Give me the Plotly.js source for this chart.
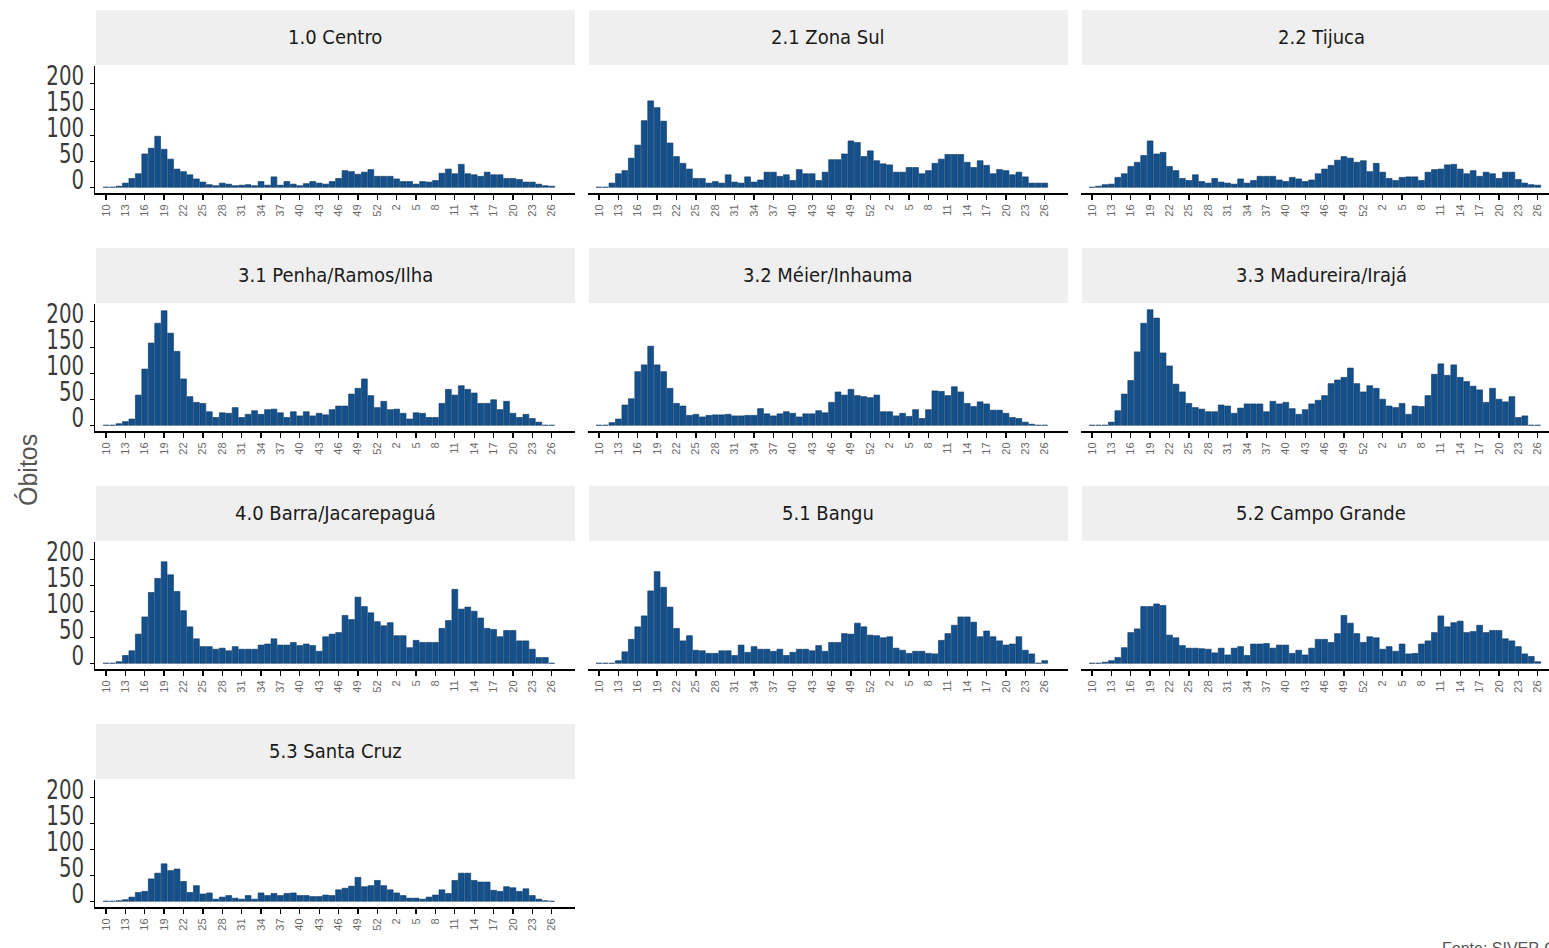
<!DOCTYPE html>
<html><head><meta charset="utf-8">
<script src="https://cdn.plot.ly/plotly-3.0.1.min.js"></script>
<style>html,body{margin:0;padding:0;overflow:hidden;background:#fff}</style>
</head><body><div id="chart" style="width:1562px;height:960px"></div>
<script>
// Epidemiological weeks: 2020 w10..w53, 2021 w1..w26
const weekLabels = ['10','11','12','13','14','15','16','17','18','19','20','21','22','23','24','25','26','27','28','29','30','31','32','33','34','35','36','37','38','39','40','41','42','43','44','45','46','47','48','49','50','51','52','53',
  '1','2','3','4','5','6','7','8','9','10','11','12','13','14','15','16','17','18','19','20','21','22','23','24','25','26'];
const regions = ['1.0 Centro','2.1 Zona Sul','2.2 Tijuca','3.1 Penha/Ramos/Ilha','3.2 Méier/Inhauma','3.3 Madureira/Irajá','4.0 Barra/Jacarepaguá','5.1 Bangu','5.2 Campo Grande','5.3 Santa Cruz'];
const yTicks = [0,50,100,150,200];

const centro = [0,0,2,8,17,26,64,75,98,73, 54,35,30,24,16,10,5,3,8,6, 3,4,5,3,11,4,20,4,11,6, 3,7,11,8,6,11,17,32,30,25, 29,34,21,21,
  21,16,11,11,6,11,10,13,27,35, 26,44,26,24,21,29,24,24,17,17, 15,10,10,6,3,2];
const zonaSul = [0,0, 8,26,32,56,81,128,166,153,127, 85,59,46,35,17,17,8,11,8,24, 10,8,20,10,14,29,29,21,24,13, 34,26,26,13,29,53,53,64,89,86, 59,70,51,
  45,43,29,29,38,38,26,32,46,54, 63,63,63,48,38,51,42,26,34,32, 24,29,20,8,8,8];
const tijuca = [0,2, 5,6,19,26,40,48,61,89,64, 67,40,32,17,13,24,11,8,17,10, 8,6,16,8,13,21,21,21,14,11, 19,16,11,14,26,35,42,52,59,56, 48,51,30,
  46,29,17,13,19,20,20,13,29,34, 35,43,44,35,26,32,21,29,26,17, 29,29,15,8,5,4];
const penha = [0,0, 3,7,12,58,108,158,196,220,177, 142,89,55,44,42,26,15,24,23,34, 15,21,28,21,30,31,24,15,26,18, 26,18,23,20,30,37,37,60,71,89, 57,34,46,
  30,31,23,12,24,23,15,15,42,69, 58,76,69,62,42,42,49,30,46,23, 15,21,13,6,0,0];
const meier = [0,0, 5,12,39,51,103,116,152,116,103,71, 42,37,19,21,16,19,20,20,21,18, 18,19,19,32,22,18,22,26,23,16, 22,22,28,24,44,64,58,69,57,55, 53,58,
  26,26,18,23,17,30,13,30,66,65, 57,74,64,42,36,45,41,29,29,23, 15,13,6,2,0,0];
const madureira = [0,0,0, 6,28,60,86,141,196,222,206,139, 114,79,64,42,34,31,26,26,39,37, 23,33,41,41,41,26,46,41,44,32, 21,30,41,48,57,80,87,92,110,80, 64,76,
  71,50,37,34,42,21,37,36,57,98, 118,96,116,92,84,75,68,44,71,50, 45,55,15,18,0,0];
const barra = [0,0, 3,15,24,56,89,136,163,195,170, 138,101,70,47,32,32,27,29,24,32, 27,27,27,35,37,47,35,35,40,34, 37,34,23,51,56,59,92,84,127,109, 97,80,72,
  78,53,53,30,44,40,40,40,67,82, 142,104,108,100,87,67,65,51,63,63, 43,43,27,11,11,0];
const bangu = [0,0,0, 5,22,46,70,91,139,176,146,108, 67,43,53,25,24,19,19,24,24,15, 35,21,32,27,27,23,27,15,21,27, 27,24,34,23,40,40,57,56,77,70, 54,53,
  49,51,29,25,19,23,23,19,18,44, 57,73,89,89,79,51,62,51,43,35, 37,51,25,18,0,5];
const campoGrande = [0,0, 2,5,11,30,59,66,109,109,114, 111,54,49,34,29,29,28,27,20,29, 16,29,32,15,37,37,38,29,35,35, 19,25,16,29,46,46,40,57,92,77, 57,40,51,
  49,27,32,23,37,18,19,37,43,59, 91,70,78,81,59,61,73,59,63,63, 47,43,32,18,13,3];
const santaCruz = [0,0, 1,3,8,17,19,43,54,72,59, 62,38,17,30,14,16,4,8,11,6, 4,11,4,16,11,15,11,15,16,11, 11,9,9,12,11,22,25,29,46,28, 30,40,30,
  22,16,11,6,6,4,8,12,22,15, 40,54,54,40,37,37,21,19,28,26, 19,24,11,4,1,0];

const series = [centro, zonaSul, tijuca, penha, meier, madureira, barra, bangu, campoGrande, santaCruz];

// ---- layout geometry (pixels) ----
const W = 1562, H = 960;
const colX = [[95,575],[588,1068],[1081,1561]];
const rowY = [[66,193],[304,431],[542,669],[780,907]];
const stripH = 56;
const px = v => v / W;
const py = v => 1 - v / H;

const xIdx = weekLabels.map((_, i) => i);
const tickvals = xIdx.filter(i => i % 3 === 0);
const ticktext = tickvals.map(i => weekLabels[i]);

const narrow = '"Liberation Sans Narrow", "DejaVu Sans Condensed", Arial, sans-serif';

const traces = [];
const layout = {
  width: W, height: H,
  margin: {l:0, r:0, t:0, b:0},
  paper_bgcolor: '#ffffff', plot_bgcolor: '#ffffff',
  showlegend: false,
  bargap: 0.1,
  shapes: [], annotations: []
};

series.forEach((vals, k) => {
  const r = Math.floor(k / 3), c = k % 3;
  const n = k + 1;
  const xa = 'x' + (n === 1 ? '' : n), ya = 'y' + (n === 1 ? '' : n);
  traces.push({
    type: 'bar', x: xIdx, y: vals, xaxis: xa, yaxis: ya,
    marker: {color: '#13508c', line: {color: '#0b355f', width: 0.6}},
    hovertemplate: regions[k] + ' semana %{customdata}: %{y}<extra></extra>',
    customdata: weekLabels
  });
  const xKey = 'xaxis' + (n === 1 ? '' : n), yKey = 'yaxis' + (n === 1 ? '' : n);
  layout[xKey] = {
    domain: [px(colX[c][0]), px(colX[c][1])],
    anchor: ya, range: [-1.7, 72.6],
    showgrid: false, zeroline: false,
    showline: true, linecolor: '#000', linewidth: 2,
    ticks: 'outside', ticklen: 5, tickwidth: 1.3, tickcolor: '#000',
    tickvals: tickvals, ticktext: ticktext, tickangle: -90,
    tickfont: {family: 'Liberation Sans, Arial, sans-serif', size: 11, color: '#6a6a6a'},
    fixedrange: true
  };
  const yax = {
    domain: [py(rowY[r][1]), py(rowY[r][0])],
    anchor: xa, range: [-11, 233],
    showgrid: false, zeroline: false, fixedrange: true
  };
  if (c === 0) {
    Object.assign(yax, {
      showline: true, linecolor: '#000', linewidth: 1.5,
      ticks: 'outside', ticklen: 4, tickwidth: 1.2, tickcolor: '#000',
      tickvals: yTicks, ticktext: yTicks.map(String),
      tickfont: {family: narrow, size: 22, color: '#3a3a3a'},
      ticklabelshift: -6, ticklabelstandoff: 1
    });
  } else {
    Object.assign(yax, {showline: false, showticklabels: false, ticks: ''});
  }
  layout[yKey] = yax;

  // facet strip
  layout.shapes.push({
    type: 'rect', xref: 'paper', yref: 'paper', layer: 'below',
    x0: px(colX[c][0] + 1), x1: px(colX[c][1]),
    y0: py(rowY[r][0] - 1), y1: py(rowY[r][0] - stripH),
    fillcolor: '#efefef', line: {width: 0}
  });
  layout.annotations.push({
    xref: 'paper', yref: 'paper',
    x: px((colX[c][0] + colX[c][1]) / 2), y: py(rowY[r][0] - stripH / 2 - 1),
    text: regions[k], showarrow: false, xanchor: 'center', yanchor: 'middle',
    font: {family: narrow, size: 20, color: '#1a1a1a'}
  });
});

layout.annotations.push({
  xref: 'paper', yref: 'paper', x: px(28), y: py(470),
  text: 'Óbitos', textangle: -90, showarrow: false,
  xanchor: 'center', yanchor: 'middle',
  font: {family: 'Liberation Sans, Arial, sans-serif', size: 25, color: '#555'}
});
layout.annotations.push({
  xref: 'paper', yref: 'paper', x: px(1440), y: py(938),
  text: 'Fonte: SIVEP-Gripe', showarrow: false,
  xanchor: 'left', yanchor: 'top',
  font: {family: 'Liberation Sans, Arial, sans-serif', size: 16, color: '#555'}
});

Plotly.newPlot('chart', traces, layout, {displayModeBar: false, staticPlot: true}).then(gd => {
  // stretch the y tick labels vertically, like the tall narrow labels of the original
  gd.querySelectorAll('.yaxislayer-above text').forEach(t => {
    const x = +t.getAttribute('x') || 0, y = +t.getAttribute('y') || 0;
    const tr = t.getAttribute('transform') || '';
    t.setAttribute('transform', tr + ' translate(' + x + ',' + y + ') scale(1,1.2) translate(' + (-x) + ',' + (-y) + ')');
  });
});
</script>
</body></html>
